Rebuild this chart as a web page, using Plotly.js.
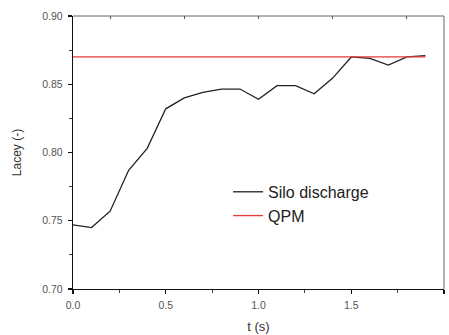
<!DOCTYPE html>
<html>
<head>
<meta charset="utf-8">
<script src="https://cdn.plot.ly/plotly-3.0.1.min.js"></script>
<style>html,body{margin:0;padding:0;background:#fff;}#chart{width:449px;height:335px;}</style>
</head>
<body>
<div id="chart"></div>
<script>
var timeS = [0.0, 0.1, 0.2, 0.3, 0.4, 0.5, 0.6, 0.7, 0.8, 0.9, 1.0, 1.1, 1.2, 1.3, 1.4, 1.5, 1.6, 1.7, 1.8, 1.9];
var siloLacey = [0.747, 0.745, 0.757, 0.787, 0.803, 0.832, 0.840, 0.844, 0.8465, 0.8465, 0.839, 0.849, 0.849, 0.843, 0.8545, 0.870, 0.869, 0.864, 0.870, 0.871];
var qpmTime = [0.0, 1.9];
var qpmLacey = [0.870, 0.870];
var xTickVals = [0, 0.5, 1.0, 1.5, 2.0];
var xTickText = ["0.0", "0.5", "1.0", "1.5", "2.0"];
var yTickVals = [0.70, 0.75, 0.80, 0.85, 0.90];
var yTickText = ["0.70", "0.75", "0.80", "0.85", "0.90"];
var topTickVals = [0.2, 0.6, 1.0, 1.4, 1.8];

var traces = [
  {x: timeS, y: siloLacey, type: 'scatter', mode: 'lines', name: 'Silo discharge',
   line: {color: '#222222', width: 1.3}},
  {x: qpmTime, y: qpmLacey, type: 'scatter', mode: 'lines', name: 'QPM',
   line: {color: '#e23a3a', width: 1.3}},
  {x: topTickVals, y: [0.9, 0.9, 0.9, 0.9, 0.9], xaxis: 'x2', yaxis: 'y', type: 'scatter', mode: 'none',
   showlegend: false, hoverinfo: 'skip'}
];

var fam = 'Liberation Sans, Arial, sans-serif';
var tickFont = {family: fam, size: 10.5, color: '#555555'};
var layout = {
  width: 449, height: 335,
  margin: {l: 73, r: 5, t: 16, b: 46},
  paper_bgcolor: '#ffffff', plot_bgcolor: '#ffffff',
  showlegend: true,
  legend: {x: 0.418, y: 0.418, xanchor: 'left', yanchor: 'top', bgcolor: 'rgba(0,0,0,0)',
    itemwidth: 30, tracegroupgap: 0,
    font: {family: fam, size: 16, color: '#222222'}},
  xaxis: {range: [0, 2], tickvals: xTickVals, ticktext: xTickText, showgrid: false, zeroline: false,
    showline: true, linecolor: '#111111', linewidth: 1.3, ticks: 'outside', ticklen: 4, tickwidth: 1.2,
    tickcolor: '#111111', tickfont: tickFont, ticklabelstandoff: 2,
    minor: {dtick: 0.25, tick0: 0, ticks: 'outside', ticklen: 3, tickcolor: '#444444', tickwidth: 1, showgrid: false},
    title: {text: 't (s)', standoff: 12, font: {family: fam, size: 13, color: '#333333'}}},
  xaxis2: {range: [0, 2], overlaying: 'x', side: 'top', anchor: 'y', tickvals: topTickVals,
    showticklabels: false, ticks: 'inside', ticklen: 3, tickcolor: '#555555', tickwidth: 1,
    showgrid: false, zeroline: false, showline: false},
  yaxis: {range: [0.70, 0.90], tickvals: yTickVals, ticktext: yTickText, showgrid: false, zeroline: false,
    showline: true, linecolor: '#111111', linewidth: 1.3, ticks: 'outside', ticklen: 4, tickwidth: 1.2,
    tickcolor: '#111111', tickfont: tickFont, ticklabelstandoff: 3,
    minor: {dtick: 0.025, tick0: 0.7, ticks: 'outside', ticklen: 3, tickcolor: '#444444', tickwidth: 1, showgrid: false},
    title: {text: 'Lacey (-)', standoff: 18, font: {family: fam, size: 12, color: '#333333'}}},
  shapes: [
    {type: 'line', xref: 'paper', yref: 'paper', x0: 0, x1: 1, y0: 1, y1: 1, line: {color: '#666666', width: 1}},
    {type: 'line', xref: 'paper', yref: 'paper', x0: 1, x1: 1, y0: 0, y1: 1, line: {color: '#666666', width: 1}}
  ]
};
Plotly.newPlot('chart', traces, layout, {displayModeBar: false, staticPlot: true});
</script>
</body>
</html>
